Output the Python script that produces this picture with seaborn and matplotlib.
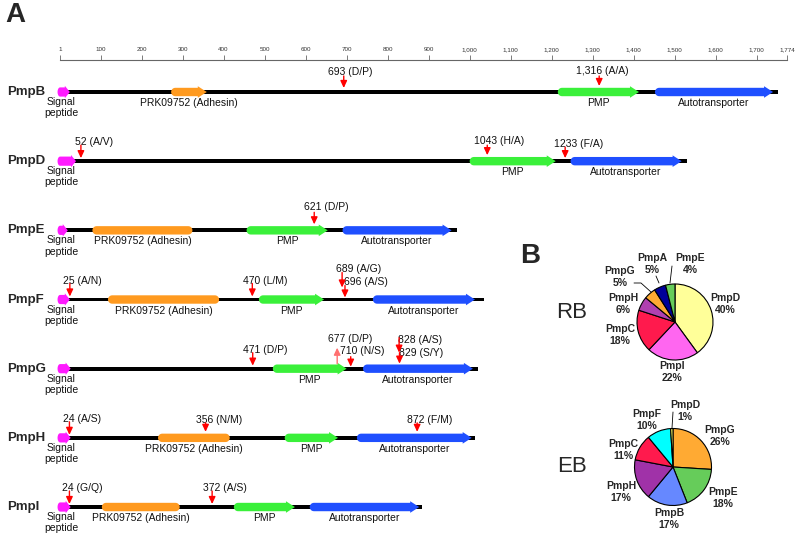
import numpy as np
import pandas as pd
import matplotlib
matplotlib.use("Agg")
import matplotlib.pyplot as plt
from matplotlib.patches import Polygon
import seaborn as sns

# ---------------- data: panel A ----------------
proteins = ["PmpB", "PmpD", "PmpE", "PmpF", "PmpG", "PmpH", "PmpI"]
lengths = [1752, 1531, 968, 1036, 1020, 1012, 885]
signal_end = [25, 40, 20, 25, 27, 27, 27]
adhesin_dom = [(272, 359), None, (80, 324), (118, 389), None, (240, 415), (103, 293)]
pmp_dom = [(1215, 1413), (1000, 1210), (456, 654), (486, 645), (520, 700), (549, 679), (425, 574)]
auto_dom = [(1452, 1740), (1246, 1517), (690, 956), (764, 1013), (740, 1008), (725, 1005), (610, 877)]

mut_sites = [[693, 1316], [52, 1043, 1233], [621], [25, 470, 689, 696],
             [471, 677, 710, 828, 829], [24, 356, 872], [24, 372]]
mut_labels = [["693 (D/P)", "1,316 (A/A)"],
              ["52 (A/V)", "1043 (H/A)", "1233 (F/A)"],
              ["621 (D/P)"],
              ["25 (A/N)", "470 (L/M)", "689 (A/G)", "696 (A/S)"],
              ["471 (D/P)", "677 (D/P)", "710 (N/S)", "828 (A/S)", "829 (S/Y)"],
              ["24 (A/S)", "356 (N/M)", "872 (F/M)"],
              ["24 (G/Q)", "372 (A/S)"]]

ruler_ticks = [1, 100, 200, 300, 400, 500, 600, 700, 800, 900, 1000,
               1100, 1200, 1300, 1400, 1500, 1600, 1700, 1774]

# ---------------- data: panel B ----------------
rb_names = ["PmpD", "PmpI", "PmpC", "PmpH", "PmpG", "PmpA", "PmpE"]
rb_pct = [40, 22, 18, 6, 5, 5, 4]
eb_names = ["PmpG", "PmpE", "PmpB", "PmpH", "PmpC", "PmpF", "PmpD"]
eb_pct = [26, 18, 17, 17, 11, 10, 1]

# ---------------- styles / layout ----------------
C_SIG, C_ADH, C_PMP, C_AUTO = "#ff1aff", "#ff9a1f", "#3af03a", "#1f4fff"
pie_colors = {"PmpD": "#ffff99", "PmpI": "#ff66f0", "PmpC": "#ff1a4d",
              "PmpH": "#b040b0", "PmpG": "#ffaa33", "PmpA": "#000099",
              "PmpE": "#66cc5a", "PmpB": "#6688ff", "PmpF": "#00ffff"}
eb_colors = dict(pie_colors, PmpD="#ffff66", PmpH="#a032a8")

W, H = 800, 539
PPA = (787 - 60) / 1773          # pixels per amino acid
XL0 = 1 - 60 / PPA
ROW_PX, ROW0 = 69.17, 92


def dx(px):
    return px / PPA


def dy(px):
    return px / ROW_PX


# per-mutation tweaks: label dx, label dy, arrow tail, arrow tip (px)
mut_layout = {
    ("PmpB", 693): (7, -20, -16, -4), ("PmpB", 1316): (3, -21, -16, -6),
    ("PmpD", 1043): (12, -20, -16, -6), ("PmpD", 1233): (13, -17, -14, -3),
    ("PmpE", 621): (12, -23, -18, -6),
    ("PmpF", 689): (17, -31, -27, -12), ("PmpF", 696): (21, -18, -14, -2),
    ("PmpG", 677): (13, -30, -5, -21), ("PmpG", 710): (12, -18, -12, -2),
    ("PmpG", 828): (21, -29, -31, -16), ("PmpG", 829): (22, -16, -16, -5),
    ("PmpH", 356): (14, -18, -15, -6), ("PmpH", 872): (13, -18, -15, -6),
}

sns.set_style("white")
plt.rcParams["font.family"] = ["Liberation Sans", "DejaVu Sans"]

fig = plt.figure(figsize=(W / 100, H / 100), dpi=100)

# ---------------- panel A ----------------
axA = fig.add_axes([0, 0, 1, 1])
axA.patch.set_alpha(0)
df = pd.DataFrame({"protein": proteins, "length": lengths})
sns.barplot(data=df, x="length", y="protein", orient="h", color="black",
            width=dy(3.8), saturation=1, errorbar=None, linewidth=0, ax=axA)
axA.set_xlim(XL0, XL0 + dx(W))
axA.set_ylim((H - ROW0) / ROW_PX, -ROW0 / ROW_PX)
axA.axis("off")


def domain(row, x0, x1, color, head=True, hh=5.8, hl=9, half=4.2, rad=None):
    rad = half if rad is None else rad
    r, ry = dx(rad), dy(half)
    t = np.linspace(np.pi / 2, 3 * np.pi / 2, 14)
    pts = list(zip(x0 + r + r * np.cos(t), row - ry * np.sin(t)))
    if head:
        b = x1 - dx(hl)
        pts += [(b, row + ry), (b, row + dy(hh)), (x1, row),
                (b, row - dy(hh)), (b, row - ry)]
    else:
        t2 = np.linspace(-np.pi / 2, np.pi / 2, 14)
        pts += list(zip(x1 - r + r * np.cos(t2), row - ry * np.sin(t2)))
    axA.add_patch(Polygon(pts, closed=True, facecolor=color, edgecolor="none", zorder=3))


lab_kw = dict(fontsize=7.5, ha="center", va="center", color="#111")
for i, name in enumerate(proteins):
    axA.text(XL0 + dx(7), i, name, fontsize=9.5, fontweight="bold", va="center", ha="left")
    domain(i, -5, signal_end[i], C_SIG, hl=5, hh=6.2, half=4.6, rad=2.5)
    axA.text(XL0 + dx(61), i + dy(5), "Signal\npeptide", fontsize=7.5, ha="center",
             va="top", linespacing=1.15, color="#111")
    if adhesin_dom[i] is not None:
        a0, a1 = adhesin_dom[i]
        domain(i, a0, a1, C_ADH, head=(name == "PmpB"))
        axA.text((a0 + a1) / 2, i + dy(11), "PRK09752 (Adhesin)", **lab_kw)
    p0, p1 = pmp_dom[i]
    domain(i, p0, p1, C_PMP)
    axA.text((p0 + p1) / 2, i + dy(11), "PMP", **lab_kw)
    b0, b1 = auto_dom[i]
    domain(i, b0, b1, C_AUTO)
    axA.text((b0 + b1) / 2, i + dy(11), "Autotransporter", **lab_kw)

    for site, lab in zip(mut_sites[i], mut_labels[i]):
        ldx, ldy, tail, tip = mut_layout.get((name, site), (13, -19, -16, -3))
        col = "#ff7070" if tip < tail else "red"
        axA.annotate("", xy=(site, i + dy(tip)), xytext=(site, i + dy(tail)),
                     arrowprops=dict(arrowstyle="-|>,head_length=0.6,head_width=0.28",
                                     color=col, lw=1, mutation_scale=7,
                                     shrinkA=0, shrinkB=0), zorder=5)
        axA.text(site + dx(ldx), i + dy(ldy), lab, **lab_kw)

# ruler
axR = fig.add_axes([0, 1 - 60 / H - 0.01, 1, 0.01])
axR.set_xlim(XL0, XL0 + dx(W))
axR.patch.set_alpha(0)
for s in ["left", "right", "bottom"]:
    axR.spines[s].set_visible(False)
axR.spines["top"].set_bounds(1, 1774)
axR.spines["top"].set_color("#666")
axR.spines["top"].set_linewidth(0.8)
axR.set_yticks([])
axR.set_xticks(ruler_ticks)
axR.set_xticklabels([f"{t:,}" for t in ruler_ticks])
axR.tick_params(axis="x", top=True, bottom=False, labeltop=True, labelbottom=False,
                direction="out", length=3.5, width=0.6, color="#666",
                labelsize=4.5, pad=2, labelcolor="#333")

fig.text(5 / W, 1 - 2 / H, "A", fontsize=20, fontweight="bold", va="top", ha="left")

# ---------------- panel B ----------------
axB = fig.add_axes([0, 0, 1, 1])
axB.patch.set_alpha(0)


def P(x, y):
    return x, H - y


wp = dict(edgecolor="black", linewidth=0.8)
axB.pie(rb_pct, colors=[pie_colors[n] for n in rb_names], startangle=90,
        counterclock=False, center=P(675, 322), radius=38, wedgeprops=wp)
axB.pie(eb_pct, colors=[eb_colors[n] for n in eb_names], startangle=90,
        counterclock=False, center=P(673, 467), radius=38.5, wedgeprops=wp)
axB.set_xlim(0, W)
axB.set_ylim(0, H)
axB.axis("off")

rb_label_pos = {"PmpE": (690, 264), "PmpA": (652, 264), "PmpG": (620, 277),
                "PmpH": (623, 304), "PmpC": (620, 335), "PmpI": (672, 372),
                "PmpD": (725, 304)}
eb_label_pos = {"PmpD": (685, 411), "PmpG": (720, 436), "PmpE": (723, 498),
                "PmpB": (669, 519), "PmpH": (621, 492), "PmpC": (623, 450),
                "PmpF": (647, 420)}
pie_kw = dict(fontsize=7.5, fontweight="bold", ha="center", va="center", linespacing=1.2)
for names, pct, pos in [(rb_names, rb_pct, rb_label_pos), (eb_names, eb_pct, eb_label_pos)]:
    for n, v in zip(names, pct):
        axB.text(*P(*pos[n]), f"{n}\n{v}%", **pie_kw)

leaders = [[(672, 266), (670, 283)], [(656, 276), (659, 283)],
           [(634, 283), (641, 283), (651, 292)], [(673, 412), (672, 428)]]
for seg in leaders:
    xs, ys = zip(*[P(*p) for p in seg])
    axB.plot(xs, ys, color="black", lw=0.6)

axB.text(*P(572, 313), "RB", fontsize=16, ha="center", va="center")
axB.text(*P(572, 467), "EB", fontsize=16, ha="center", va="center")
fig.text(520 / W, 1 - 243 / H, "B", fontsize=20, fontweight="bold", va="top", ha="left")

fig.savefig("out.png", dpi=100)
